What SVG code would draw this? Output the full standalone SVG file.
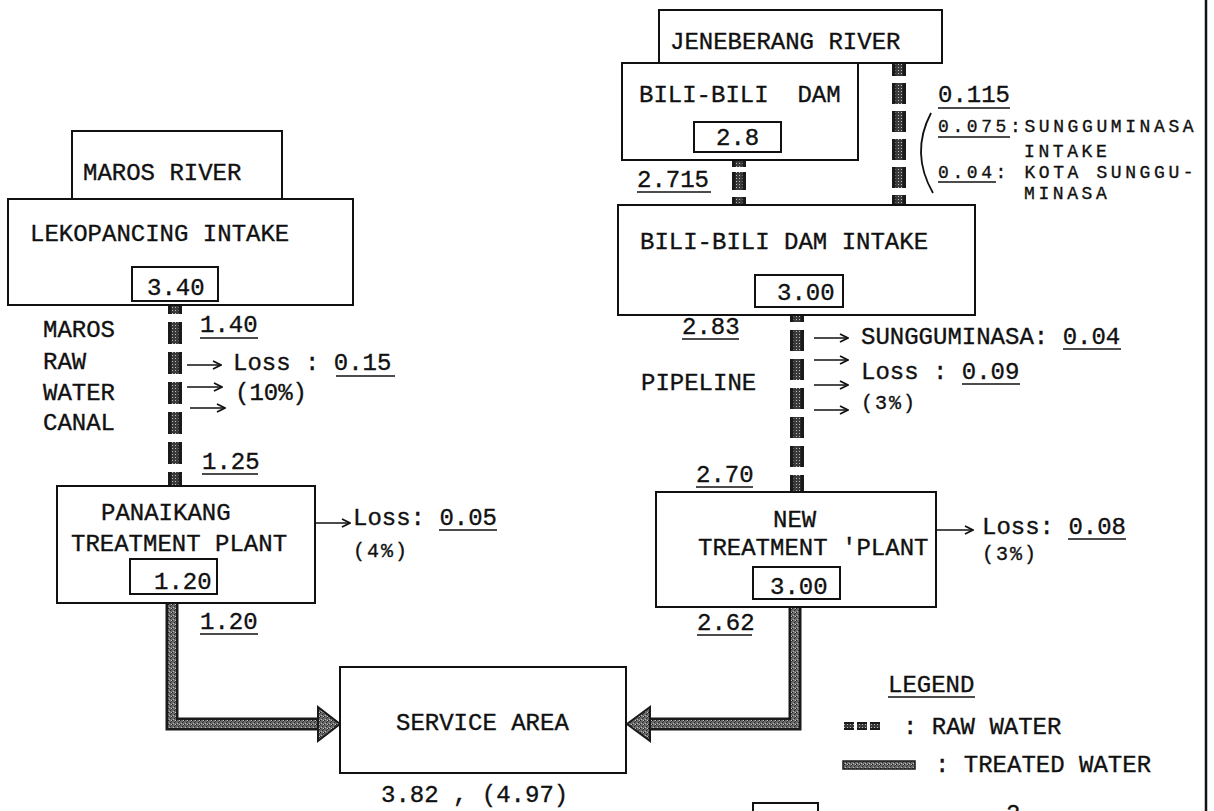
<svg xmlns="http://www.w3.org/2000/svg" width="1214" height="811" viewBox="0 0 1214 811">
<defs>
<pattern id="stip" width="4" height="4" patternUnits="userSpaceOnUse">
<rect width="4" height="4" fill="#6a6a6a"/>
<rect x="0" y="0" width="1" height="1" fill="#1e1e1e"/>
<rect x="2" y="2" width="1" height="1" fill="#2a2a2a"/>
<rect x="3" y="1" width="1" height="1" fill="#333"/>
<rect x="3" y="0" width="1" height="1" fill="#c8c8c8"/>
<rect x="1" y="3" width="1" height="1" fill="#b8b8b8"/>
</pattern>
<pattern id="rawp" width="3" height="3" patternUnits="userSpaceOnUse">
<rect width="3" height="3" fill="#3a3a3a"/>
<rect x="1" y="1" width="1" height="1" fill="#bbb"/>
</pattern>
<marker id="ah" viewBox="0 0 10 10" refX="9" refY="5" markerWidth="10" markerHeight="10" markerUnits="userSpaceOnUse" orient="auto">
<path d="M1 1 L9 5 L1 9" fill="none" stroke="#111" stroke-width="1.8"/>
</marker>
</defs>
<style>
.t{font-family:"Liberation Mono","Courier New",monospace;font-size:24px;fill:#111;stroke:#111;stroke-width:0.35}
.s{font-size:18px;letter-spacing:3.6px}
.p{font-size:20px;letter-spacing:2px}
.box{fill:#fff;stroke:#111;stroke-width:2}
.ul{stroke:#111;stroke-width:1.6}
.rawo{fill:none;stroke:#1a1a1a;stroke-width:14}
.rawi{fill:none;stroke:url(#rawp);stroke-width:7}
.trto{fill:none;stroke:#1a1a1a;stroke-width:13}
.trti{fill:none;stroke:url(#stip);stroke-width:8}
.arr{fill:none;stroke:#111;stroke-width:1.6;marker-end:url(#ah)}
</style>
<rect width="1214" height="811" fill="#fff"/>

<line x1="1206" y1="0" x2="1206" y2="811" stroke="#111" stroke-width="2.5"/>

<g id="connectors">
<line class="rawo" x1="175" y1="305" x2="175" y2="487" stroke-dasharray="22 8" stroke-dashoffset="13"/>
<line class="rawi" x1="175" y1="305" x2="175" y2="487" stroke-dasharray="22 8" stroke-dashoffset="13"/>
<line class="rawo" x1="899" y1="63" x2="899" y2="205" stroke-dasharray="21 7" stroke-dashoffset="8"/>
<line class="rawi" x1="899" y1="63" x2="899" y2="205" stroke-dasharray="21 7" stroke-dashoffset="8"/>
<line class="rawo" x1="739" y1="160" x2="739" y2="205" stroke-dasharray="7 5 18 7 10"/>
<line class="rawi" x1="739" y1="160" x2="739" y2="205" stroke-dasharray="7 5 18 7 10"/>
<line class="rawo" x1="797" y1="315" x2="797" y2="493" stroke-width="12" stroke-dasharray="21 8" stroke-dashoffset="14"/>
<line class="rawi" x1="797" y1="315" x2="797" y2="493" stroke-width="6" stroke-dasharray="21 8" stroke-dashoffset="14"/>
<path class="trto" d="M172 603 V724 H320"/>
<path class="trti" d="M172 603 V724 H320"/>
<polygon points="318,707 340,724 318,741" fill="url(#stip)" stroke="#1a1a1a" stroke-width="2"/>
<path class="trto" d="M795 607 V724 H648"/>
<path class="trti" d="M795 607 V724 H648"/>
<polygon points="650,707 627,724 650,741" fill="url(#stip)" stroke="#1a1a1a" stroke-width="2"/>
<line class="arr" x1="187" y1="365" x2="221" y2="365"/>
<line class="arr" x1="187" y1="387" x2="222" y2="387"/>
<line class="arr" x1="190" y1="408" x2="225" y2="408"/>
<line class="arr" x1="316" y1="523" x2="350" y2="523"/>
<line class="arr" x1="814" y1="338" x2="848" y2="338" stroke-width="2.8"/>
<line class="arr" x1="814" y1="360" x2="848" y2="360"/>
<line class="arr" x1="814" y1="385" x2="848" y2="385"/>
<line class="arr" x1="814" y1="410" x2="848" y2="410"/>
<line class="arr" x1="937" y1="530" x2="973" y2="530"/>
<path d="M931 113 Q910 153 933 193" fill="none" stroke="#111" stroke-width="1.8"/>
</g>

<g id="maros-river">
<rect class="box" x="72" y="131" width="210" height="68"/>
<text class="t" x="83" y="180">MAROS RIVER</text>
</g>

<g id="lekopancing-intake">
<rect class="box" x="8" y="199" width="345" height="106"/>
<text class="t" x="30" y="241">LEKOPANCING INTAKE</text>
<rect class="box" x="132" y="267" width="86" height="34"/>
<text class="t" x="147" y="295">3.40</text>
</g>

<g id="maros-canal-labels">
<text class="t" x="43" y="337">MAROS</text>
<text class="t" x="43" y="369">RAW</text>
<text class="t" x="43" y="400">WATER</text>
<text class="t" x="43" y="430">CANAL</text>
<text class="t" x="200" y="332">1.40</text>
<line class="ul" x1="200" y1="338" x2="258" y2="338"/>
<text class="t" x="233" y="370">Loss : 0.15</text>
<line class="ul" x1="336" y1="376" x2="395" y2="376"/>
<text class="t" x="235" y="400">(10%)</text>
<text class="t" x="202" y="469">1.25</text>
<line class="ul" x1="202" y1="474" x2="258" y2="474"/>
</g>

<g id="panaikang-treatment-plant">
<rect class="box" x="57" y="486" width="258" height="117"/>
<text class="t" x="101" y="520">PANAIKANG</text>
<text class="t" x="71" y="551">TREATMENT PLANT</text>
<rect class="box" x="130" y="559" width="87" height="35"/>
<text class="t" x="154" y="589">1.20</text>
<text class="t" x="353" y="525">Loss: 0.05</text>
<line class="ul" x1="439" y1="530" x2="497" y2="530"/>
<text class="t p" x="353" y="557">(4%)</text>
<text class="t" x="200" y="629">1.20</text>
<line class="ul" x1="200" y1="634" x2="258" y2="634"/>
</g>

<g id="service-area">
<rect class="box" x="340" y="667" width="286" height="106"/>
<text class="t" x="396" y="730">SERVICE AREA</text>
<text class="t" x="381" y="802">3.82 , (4.97)</text>
</g>

<g id="jeneberang-river">
<rect class="box" x="659" y="10" width="283" height="53"/>
<text class="t" x="670" y="49">JENEBERANG RIVER</text>
</g>

<g id="bili-bili-dam">
<rect class="box" x="622" y="63" width="236" height="97"/>
<text class="t" x="639" y="102">BILI-BILI&#160; DAM</text>
<rect class="box" x="694" y="122" width="87" height="30"/>
<text class="t" x="716" y="145">2.8</text>
<text class="t" x="637" y="187">2.715</text>
<line class="ul" x1="637" y1="192" x2="711" y2="192"/>
</g>

<g id="sungguminasa-labels">
<text class="t" x="938" y="102">0.115</text>
<line class="ul" x1="938" y1="108" x2="1010" y2="108"/>
<text class="t s" x="938" y="132">0.075:SUNGGUMINASA</text>
<line class="ul" x1="938" y1="137" x2="1010" y2="137"/>
<text class="t s" x="1024" y="157">INTAKE</text>
<text class="t s" x="938" y="178">0.04: KOTA SUNGGU-</text>
<line class="ul" x1="938" y1="182" x2="996" y2="182"/>
<text class="t s" x="1024" y="199">MINASA</text>
</g>

<g id="bili-bili-dam-intake">
<rect class="box" x="618" y="205" width="357" height="110"/>
<text class="t" x="640" y="249">BILI-BILI DAM INTAKE</text>
<rect class="box" x="755" y="275" width="88" height="32"/>
<text class="t" x="777" y="300">3.00</text>
</g>

<g id="pipeline-labels">
<text class="t" x="682" y="334">2.83</text>
<line class="ul" x1="682" y1="339" x2="739" y2="339"/>
<text class="t" x="861" y="344">SUNGGUMINASA: 0.04</text>
<line class="ul" x1="1063" y1="349" x2="1121" y2="349"/>
<text class="t" x="861" y="379">Loss : 0.09</text>
<line class="ul" x1="962" y1="384" x2="1020" y2="384"/>
<text class="t p" x="861" y="409">(3%)</text>
<text class="t" x="641" y="390">PIPELINE</text>
<text class="t" x="696" y="482">2.70</text>
<line class="ul" x1="696" y1="487" x2="753" y2="487"/>
</g>

<g id="new-treatment-plant">
<rect class="box" x="656" y="492" width="280" height="115"/>
<text class="t" x="773" y="527">NEW</text>
<text class="t" x="698" y="555">TREATMENT 'PLANT</text>
<rect class="box" x="753" y="567" width="87" height="32"/>
<text class="t" x="770" y="594">3.00</text>
<text class="t" x="982" y="534">Loss: 0.08</text>
<line class="ul" x1="1068" y1="539" x2="1126" y2="539"/>
<text class="t p" x="982" y="560">(3%)</text>
<text class="t" x="697" y="630">2.62</text>
<line class="ul" x1="697" y1="635" x2="752" y2="635"/>
</g>

<g id="legend">
<text class="t" x="888" y="692">LEGEND</text>
<line class="ul" x1="888" y1="697" x2="975" y2="697"/>
<line x1="844" y1="726" x2="880" y2="726" stroke="#1a1a1a" stroke-width="8" stroke-dasharray="10 3"/>
<line x1="844" y1="726" x2="880" y2="726" stroke="url(#rawp)" stroke-width="4" stroke-dasharray="10 3"/>
<text class="t" x="903" y="734">: RAW WATER</text>
<rect x="843" y="761" width="72" height="8" fill="url(#stip)" stroke="#1a1a1a" stroke-width="1.5"/>
<text class="t" x="935" y="772">: TREATED WATER</text>
</g>

<g id="bottom-fragment">
<rect class="box" x="753" y="803" width="65" height="20"/>
<text class="t" x="1006" y="821">2</text>
</g>
</svg>
